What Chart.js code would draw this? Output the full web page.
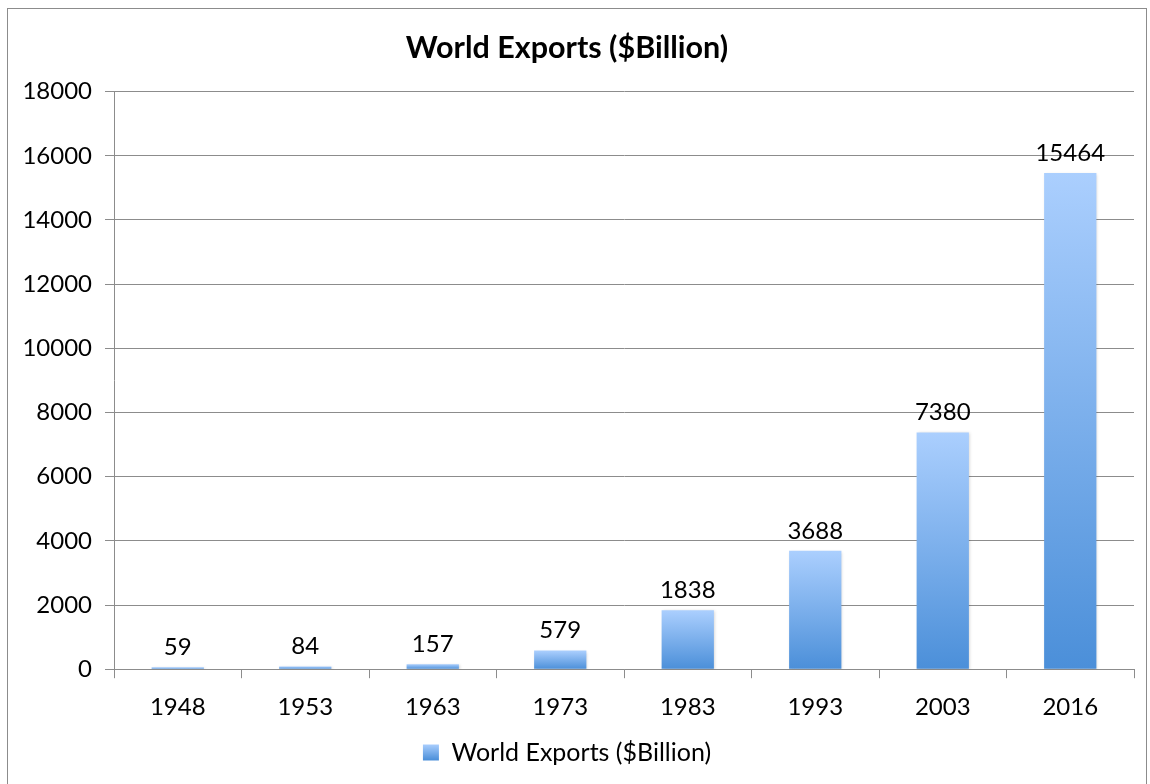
<!DOCTYPE html>
<html>
<head>
<meta charset="utf-8">
<script src="https://cdn.jsdelivr.net/npm/chart.js@4.4.0/dist/chart.umd.js"></script>
<style>
  html, body { margin: 0; padding: 0; background: #fff; overflow: hidden; }
  #frame { position: absolute; left: 7px; top: 8px; width: 1138px; height: 800px; border: 1px solid #8c8c8c; }
  #wrap { position: absolute; left: 0; top: 0; width: 1150px; height: 784px; }
</style>
</head>
<body>
<div id="frame"></div>
<div id="wrap"><canvas id="chart" width="1150" height="784"></canvas></div>
<script>
const years = ['1948', '1953', '1963', '1973', '1983', '1993', '2003', '2016'];
const exportsBn = [59, 84, 157, 579, 1838, 3688, 7380, 15464];
const seriesName = 'World Exports ($Billion)';
const yMax = 18000;
const yStep = 2000;

const FONT = 'Lato, "Open Sans", sans-serif';
const topColor = '#abcffe';
const bottomColor = '#4b8fd9';

// each bar gets its own top-to-bottom gradient, like the spreadsheet fill
const barFill = (ctx) => {
  const chart = ctx.chart;
  if (!chart.chartArea || ctx.type !== 'data') return topColor;
  const y = chart.scales.y;
  const top = y.getPixelForValue(ctx.raw);
  const bottom = y.getPixelForValue(0);
  const g = chart.ctx.createLinearGradient(0, top, 0, bottom);
  g.addColorStop(0, topColor);
  g.addColorStop(1, bottomColor);
  return g;
};

const valueLabels = {
  id: 'valueLabels',
  afterDatasetsDraw(chart) {
    const { ctx } = chart;
    const meta = chart.getDatasetMeta(0);
    ctx.save();
    ctx.font = '24px ' + FONT;
    ctx.fillStyle = '#000';
    ctx.textAlign = 'center';
    ctx.textBaseline = 'bottom';
    meta.data.forEach((bar, i) => {
      ctx.fillText(String(exportsBn[i]), bar.x, bar.y - 8);
    });
    ctx.restore();
  }
};

const barShadow = {
  id: 'barShadow',
  beforeDatasetsDraw(chart) {
    const { ctx } = chart;
    ctx.save();
    ctx.shadowColor = 'rgba(0,0,0,0.18)';
    ctx.shadowBlur = 3;
    ctx.shadowOffsetX = 1;
    ctx.shadowOffsetY = 1;
  },
  afterDatasetsDraw(chart) {
    chart.ctx.restore();
  }
};

const legendBox = () => {
  const ctx = document.getElementById('chart').getContext('2d');
  const g = ctx.createLinearGradient(0, 744, 0, 760);
  g.addColorStop(0, topColor);
  g.addColorStop(1, bottomColor);
  return g;
};

new Chart(document.getElementById('chart'), {
  type: 'bar',
  data: {
    labels: years,
    datasets: [{
      label: seriesName,
      data: exportsBn,
      backgroundColor: barFill,
      borderWidth: 0,
      categoryPercentage: 1,
      barPercentage: 0.41
    }]
  },
  options: {
    responsive: false,
    animation: false,
    layout: { padding: { left: 0, right: 16, top: 0, bottom: 9 } },
    plugins: {
      title: {
        display: true,
        text: seriesName,
        color: '#000',
        font: { family: FONT, size: 30.5, weight: 'bold' },
        padding: { top: 30, bottom: 25 }
      },
      legend: {
        position: 'bottom',
        labels: {
          color: '#000',
          font: { family: FONT, size: 25 },
          boxWidth: 16,
          boxHeight: 16,
          padding: 3,
          generateLabels: () => [{
            text: seriesName,
            fillStyle: legendBox(),
            strokeStyle: 'rgba(0,0,0,0)',
            lineWidth: 0,
            datasetIndex: 0
          }]
        }
      },
      tooltip: { enabled: false }
    },
    scales: {
      x: {
        grid: {
          display: true,
          drawOnChartArea: false,
          offset: true,
          color: '#8c8c8c',
          tickLength: 9
        },
        border: { color: '#8c8c8c' },
        ticks: { color: '#000', font: { family: FONT, size: 24 }, padding: 15 }
      },
      y: {
        min: 0,
        max: yMax,
        afterFit: (s) => { s.width = 114; },
        grid: { color: '#8c8c8c', tickLength: 9 },
        border: { color: '#8c8c8c' },
        ticks: {
          stepSize: yStep,
          color: '#000',
          font: { family: FONT, size: 24 },
          padding: 13,
          callback: (v) => String(v)
        }
      }
    }
  },
  plugins: [barShadow, valueLabels]
});
</script>
</body>
</html>
